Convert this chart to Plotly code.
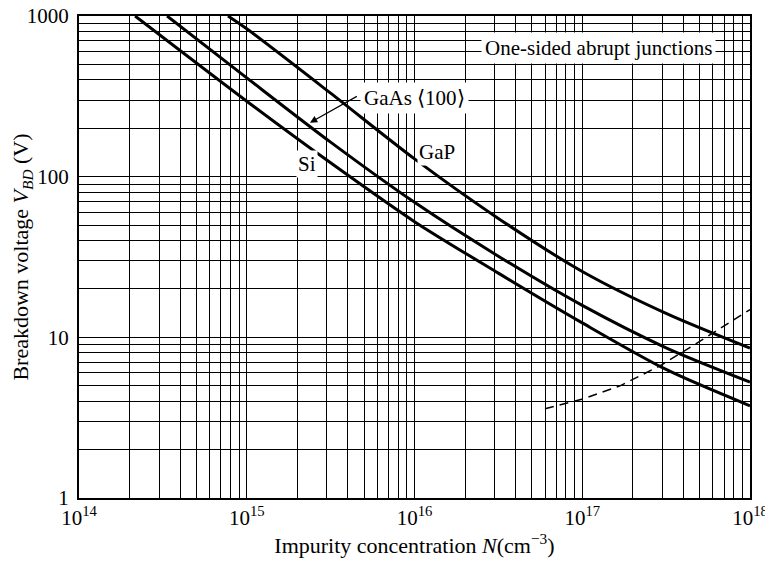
import plotly.graph_objects as go

# ---- data ----
si_N = [2.16e14, 1e15, 3.16e15, 1e16, 3.16e16, 1e17, 3.16e17, 1e18]
si_V = [1000, 295, 122, 52.5, 25.1, 12.3, 6.31, 3.75]

gaas_N = [3.35e14, 1e15, 3.16e15, 1e16, 3.16e16, 1e17, 3.16e17, 1e18]
gaas_V = [1000, 412, 164, 69.2, 32.0, 15.8, 8.61, 5.27]

gap_N = [7.73e14, 1e15, 3.16e15, 1e16, 3.16e16, 1e17, 3.16e17, 1e18]
gap_V = [1000, 832, 331, 129, 55.0, 25.7, 14.1, 8.57]

dash_N = [6.0e16, 1.01e17, 1.68e17, 2.90e17, 4.83e17, 7.29e17, 1.0e18]
dash_V = [3.59, 4.14, 4.99, 6.64, 9.2, 12.1, 14.9]

x_decades = [14, 15, 16, 17, 18]
y_decades = [0, 1, 2, 3]
y_tick_labels = ["1", "10", "100", "1000"]

# gridline positions (1..9 per decade) and their labels
x_tickvals, x_ticktext = [], []
for d in x_decades:
    for m in range(1, 10):
        if d == 18 and m > 1:
            break
        x_tickvals.append(m * 10.0 ** d)
        x_ticktext.append(f"10<sup>{d}</sup>" if m == 1 else "")
y_tickvals, y_ticktext = [], []
for i, d in enumerate(y_decades):
    for m in range(1, 10):
        if d == 3 and m > 1:
            break
        y_tickvals.append(m * 10.0 ** d)
        y_ticktext.append(y_tick_labels[i] if m == 1 else "")

FONT = "Liberation Serif, Times New Roman, serif"

fig = go.Figure()
curve = dict(color="black", width=3, shape="spline", smoothing=0.8)
for N, V, name in [(si_N, si_V, "Si"), (gaas_N, gaas_V, "GaAs"), (gap_N, gap_V, "GaP")]:
    fig.add_trace(go.Scatter(x=N, y=V, mode="lines", name=name, line=curve, showlegend=False))
fig.add_trace(go.Scatter(x=dash_N, y=dash_V, mode="lines", name="dashed",
                         line=dict(color="black", width=1.5, dash="9px,6px"),
                         showlegend=False))

fig.update_xaxes(type="log", range=[14, 18], tickvals=x_tickvals, ticktext=x_ticktext,
                 showgrid=True, gridcolor="black", gridwidth=1, ticks="",
                 showline=True, linecolor="black", linewidth=2, mirror=True,
                 automargin=False, ticklabeloverflow="allow",
                 tickfont=dict(family=FONT, size=21, color="black"),
                 title=dict(text="Impurity concentration <i>N</i>(cm<sup>\u22123</sup>)",
                            font=dict(family=FONT, size=22, color="black"), standoff=8),
                 zeroline=False)
fig.update_yaxes(type="log", range=[0, 3], tickvals=y_tickvals, ticktext=y_ticktext,
                 showgrid=True, gridcolor="black", gridwidth=1, ticks="",
                 showline=True, linecolor="black", linewidth=2, mirror=True,
                 automargin=False, ticklabelstandoff=4, ticklabeloverflow="allow",
                 tickfont=dict(family=FONT, size=21, color="black"),
                 title=dict(text="Breakdown voltage <i>V<sub>BD</sub></i> (V)",
                            font=dict(family=FONT, size=22, color="black"), standoff=2),
                 zeroline=False)

afont = dict(family=FONT, size=21, color="black")
fig.add_annotation(x=17.094, y=2.80, xref="x", yref="y", text="One-sided abrupt junctions",
                   showarrow=False, font=afont, bgcolor="white", borderpad=3)
fig.add_annotation(x=15.675, y=2.491, xref="x", yref="y", text="GaAs \u27e8100\u27e9",
                   xanchor="left", showarrow=False, font=afont, bgcolor="white", borderpad=3)
fig.add_annotation(x=15.377, y=2.336, ax=15.665, ay=2.505, xref="x", yref="y",
                   axref="x", ayref="y", text="", showarrow=True, arrowhead=2,
                   arrowsize=1.2, arrowwidth=1.2, arrowcolor="black")
fig.add_annotation(x=16.134, y=2.151, xref="x", yref="y", text="GaP",
                   showarrow=False, font=afont, bgcolor="white", borderpad=1)
fig.add_annotation(x=15.359, y=2.076, xref="x", yref="y", text="Si",
                   showarrow=False, font=afont, bgcolor="white", borderpad=1)

# the page adds an 8px body margin, so the figure is sized/offset to compensate
fig.update_layout(width=765, height=556, margin=dict(l=71, r=23, t=8, b=66),
                  plot_bgcolor="white", paper_bgcolor="white",
                  font=dict(family=FONT, color="black"))
fig.write_html("out.html")
